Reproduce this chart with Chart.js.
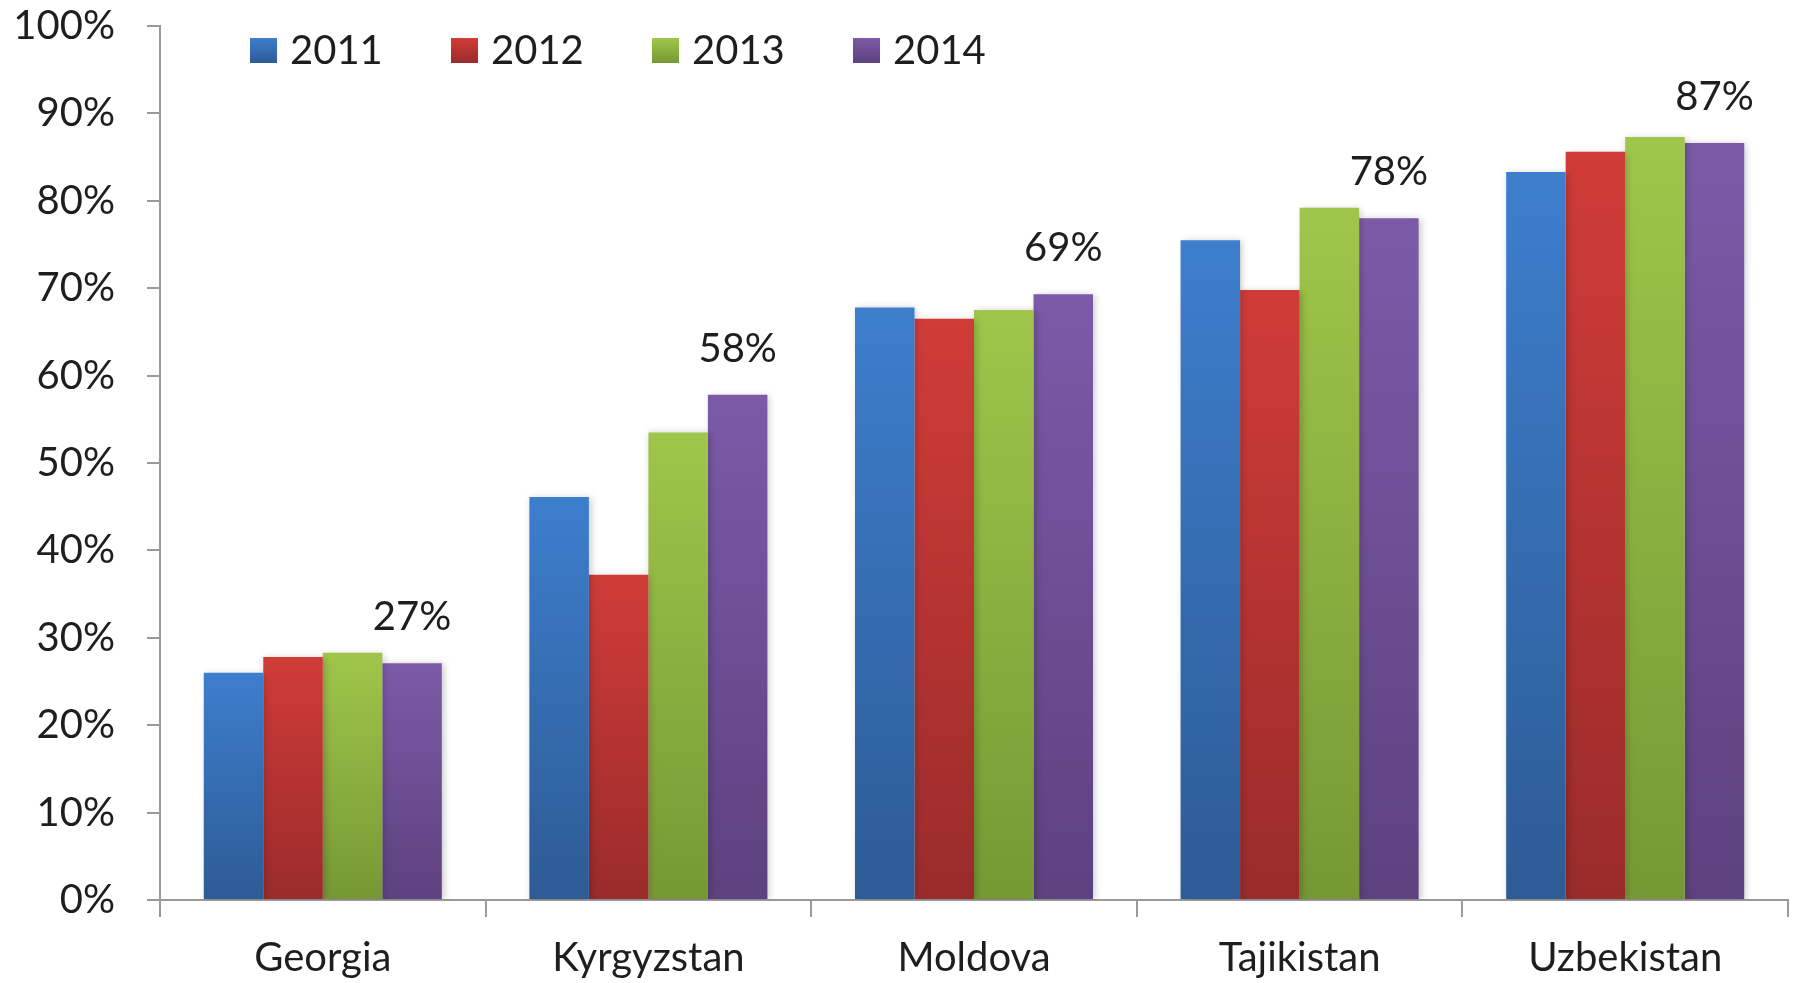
<!DOCTYPE html>
<html>
<head>
<meta charset="utf-8">
<script src="https://cdn.jsdelivr.net/npm/chart.js@4/dist/chart.umd.min.js"></script>
<style>
html,body{margin:0;padding:0;background:#fff;}
#c{display:block;}
</style>
</head>
<body>
<canvas id="c" width="1798" height="983"></canvas>
<script>
const categories = ['Georgia', 'Kyrgyzstan', 'Moldova', 'Tajikistan', 'Uzbekistan'];
const seriesNames = ['2011', '2012', '2013', '2014'];
const values2011 = [26.0, 46.1, 67.8, 75.5, 83.3];
const values2012 = [27.8, 37.2, 66.5, 69.8, 85.6];
const values2013 = [28.3, 53.5, 67.5, 79.2, 87.3];
const values2014 = [27.1, 57.8, 69.3, 78.0, 86.6];
const yTicks = [0, 10, 20, 30, 40, 50, 60, 70, 80, 90, 100];
const labelledSeries = '2014';

const seriesValues = [values2011, values2012, values2013, values2014];
const topColors = ['#3d7ecd', '#d03c38', '#9fc64a', '#7c5aa8'];
const bottomColors = ['#2d5b95', '#9a2b2b', '#769834', '#5e417f'];
const FONT = 'Lato';
const TEXT = '#1e1e1e';
const AXIS = '#9a9a9a';

function gradientFor(i) {
  return function (ctx) {
    const chart = ctx.chart;
    if (!chart.chartArea || ctx.type !== 'data') return topColors[i];
    const ys = chart.scales.y;
    const yTop = ys.getPixelForValue(ctx.raw);
    const yBot = ys.getPixelForValue(0);
    const g = chart.ctx.createLinearGradient(0, yTop, 0, yBot);
    g.addColorStop(0, topColors[i]);
    g.addColorStop(1, bottomColors[i]);
    return g;
  };
}

const datasets = seriesNames.map((name, i) => ({
  label: name,
  data: seriesValues[i],
  backgroundColor: gradientFor(i),
  borderWidth: 0,
  categoryPercentage: 0.731,
  barPercentage: 1.0
}));

const shadowPlugin = {
  id: 'shadow',
  beforeDatasetsDraw(chart) {
    const c = chart.ctx;
    c.save();
    c.shadowColor = 'rgba(0,0,0,0.22)';
    c.shadowBlur = 7;
    c.shadowOffsetX = 2;
    c.shadowOffsetY = 1;
  },
  afterDatasetsDraw(chart) {
    chart.ctx.restore();
  }
};

const labelPlugin = {
  id: 'valueLabels',
  afterDatasetsDraw(chart) {
    const c = chart.ctx;
    const di = chart.data.datasets.findIndex(d => d.label === labelledSeries);
    if (di < 0) return;
    const meta = chart.getDatasetMeta(di);
    c.save();
    c.font = '40px ' + FONT;
    c.fillStyle = TEXT;
    c.textAlign = 'center';
    c.textBaseline = 'alphabetic';
    meta.data.forEach((bar, j) => {
      const v = chart.data.datasets[di].data[j];
      c.fillText(Math.round(v) + '%', bar.x, bar.y - 33);
    });
    c.restore();
  }
};

const legendPlugin = {
  id: 'customLegend',
  afterDraw(chart) {
    const c = chart.ctx;
    c.save();
    c.font = '40px ' + FONT;
    c.textAlign = 'left';
    c.textBaseline = 'alphabetic';
    chart.data.datasets.forEach((d, i) => {
      const x = 250 + i * 201;
      const y = 38;
      const g = c.createLinearGradient(0, y, 0, y + 25);
      g.addColorStop(0, topColors[i]);
      g.addColorStop(1, bottomColors[i]);
      c.fillStyle = g;
      c.fillRect(x, y, 27, 25);
      c.fillStyle = TEXT;
      c.fillText(d.label, x + 40, 64);
    });
    c.restore();
  }
};

new Chart(document.getElementById('c'), {
  type: 'bar',
  data: { labels: categories, datasets },
  options: {
    responsive: false,
    animation: false,
    layout: { padding: { left: 0, top: 26, right: 10, bottom: 0 } },
    plugins: {
      legend: { display: false },
      tooltip: { enabled: false }
    },
    scales: {
      x: {
        grid: { display: true, drawOnChartArea: false, drawTicks: true, tickLength: 17, color: AXIS, lineWidth: 2, offset: true },
        border: { display: true, color: AXIS, width: 2 },
        ticks: { font: { family: FONT, size: 40 }, color: TEXT, padding: 17, maxRotation: 0 },
        afterFit(scale) { scale.height = 83; scale.paddingLeft = 0; scale.paddingRight = 0; }
      },
      y: {
        min: 0,
        max: 100,
        afterBuildTicks(scale) { scale.ticks = yTicks.map(v => ({ value: v })); },
        grid: { display: true, drawOnChartArea: false, drawTicks: true, tickLength: 13, color: AXIS, lineWidth: 2 },
        border: { display: true, color: AXIS, width: 2 },
        ticks: { font: { family: FONT, size: 40 }, color: TEXT, padding: 32, callback: v => v + '%' },
        afterFit(scale) { scale.width = 160; scale.paddingTop = 0; scale.paddingBottom = 0; }
      }
    }
  },
  plugins: [shadowPlugin, labelPlugin, legendPlugin]
});
</script>
</body>
</html>
